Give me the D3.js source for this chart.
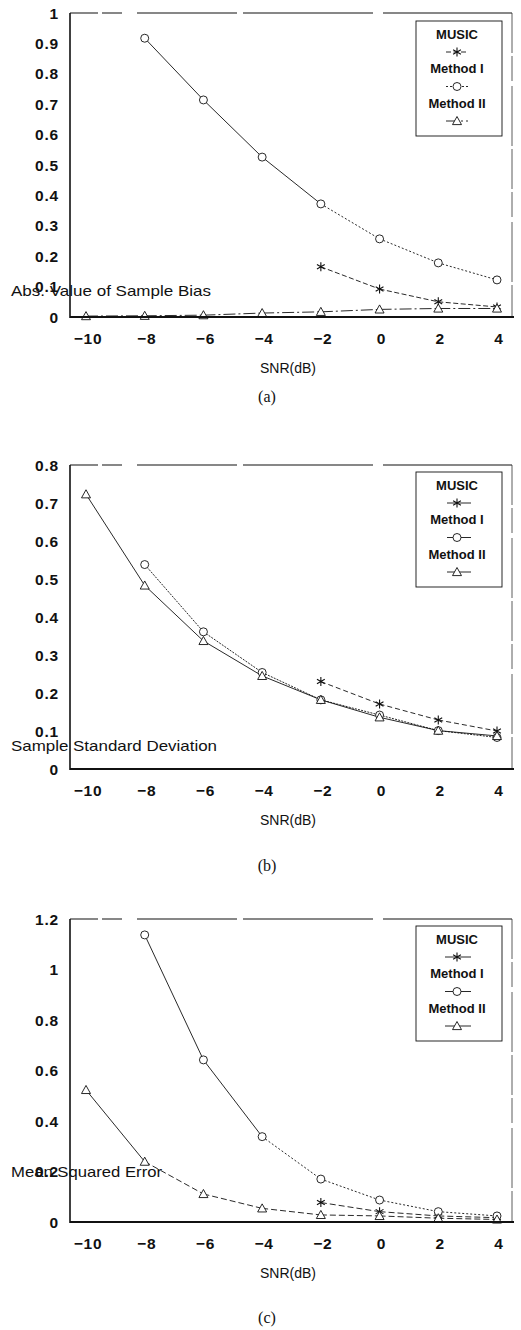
<!DOCTYPE html>
<html>
<head>
<meta charset="utf-8">
<script src="https://cdn.jsdelivr.net/npm/d3@7"></script>
<style>
  body { margin: 0; background: #fff; }
  svg { display: block; }
</style>
</head>
<body>
<div id="chart"></div>
<script>
// SNR values shared by all three panels
const snr = [-10, -8, -6, -4, -2, 0, 2, 4]
const xTicks = [-10, -8, -6, -4, -2, 0, 2, 4]
const seriesNames = ['MUSIC', 'Method I', 'Method II']

// (a) absolute value of sample bias
const biasMusic = [null, null, null, null, 0.165, 0.092, 0.05, 0.033]
const biasMethod1 = [null, 0.917, 0.714, 0.526, 0.372, 0.257, 0.178, 0.122]
const biasMethod2 = [0.003, 0.004, 0.006, 0.013, 0.017, 0.025, 0.028, 0.028]
const biasTicks = [0, 0.1, 0.2, 0.3, 0.4, 0.5, 0.6, 0.7, 0.8, 0.9, 1]

// (b) sample standard deviation
const stdMusic = [null, null, null, null, 0.23, 0.171, 0.129, 0.1]
const stdMethod1 = [null, 0.538, 0.361, 0.254, 0.182, 0.142, 0.101, 0.083]
const stdMethod2 = [0.723, 0.483, 0.337, 0.245, 0.182, 0.136, 0.101, 0.087]
const stdTicks = [0, 0.1, 0.2, 0.3, 0.4, 0.5, 0.6, 0.7, 0.8]

// (c) mean squared error
const mseMusic = [null, null, null, null, 0.077, 0.041, 0.024, 0.017]
const mseMethod1 = [null, 1.137, 0.642, 0.338, 0.17, 0.087, 0.041, 0.024]
const mseMethod2 = [0.523, 0.239, 0.111, 0.054, 0.028, 0.024, 0.015, 0.01]
const mseTicks = [0, 0.2, 0.4, 0.6, 0.8, 1, 1.2]

const W = 521, H = 1330
const svg = d3.select('#chart').append('svg').attr('width', W).attr('height', H)

const x = d3.scaleLinear().domain([-10, 4]).range([86, 497])
const axisLeft = 70, axisRight = 512

const sans = '"Liberation Sans", Arial, Helvetica, sans-serif'

function marker(g, type, cx, cy) {
    if (type === 'circle') {
        g.append('circle').attr('cx', cx).attr('cy', cy).attr('r', 4)
            .attr('fill', '#fff').attr('stroke', '#111').attr('stroke-width', 0.9)
    } else if (type === 'triangle') {
        const s = 4.5
        g.append('path')
            .attr('d', `M${cx},${cy - s}L${cx + s},${cy + s * 0.8}L${cx - s},${cy + s * 0.8}Z`)
            .attr('fill', '#fff').attr('stroke', '#111').attr('stroke-width', 0.9)
    } else {
        const s = 4.5, a = s * Math.cos(Math.PI / 6), b = s * Math.sin(Math.PI / 6)
        g.append('path')
            .attr('d', `M${cx},${cy - s}V${cy + s}M${cx - a},${cy - b}L${cx + a},${cy + b}M${cx - a},${cy + b}L${cx + a},${cy - b}`)
            .attr('stroke', '#111').attr('stroke-width', 1.1).attr('fill', 'none')
    }
}

function drawPanel(p) {
    const y = d3.scaleLinear().domain([0, p.max]).range([p.y0, p.yTop])
    const g = svg.append('g')

    // frame: top and right borders are slightly broken like the scan
    g.append('line').attr('x1', axisLeft).attr('x2', axisRight)
        .attr('y1', p.yTop).attr('y2', p.yTop)
        .attr('stroke', '#111').attr('stroke-width', 1.1)
        .attr('stroke-dasharray', '28,4,20,15,100,6,130,10,160,4')
    g.append('line').attr('x1', axisRight).attr('x2', axisRight)
        .attr('y1', p.yTop).attr('y2', p.y0)
        .attr('stroke', '#333').attr('stroke-width', 0.8)
        .attr('stroke-dasharray', '40,3,25,5,60,3')

    // series lines
    const line = d3.line().defined(d => d[1] != null).x(d => x(d[0])).y(d => y(d[1]))
    p.series.forEach(s => {
        const pts = snr.map((v, i) => [v, s.values[i]]).filter(d => d[1] != null)
        for (let i = 0; i < pts.length - 1; i++) {
            const solid = i < (s.solidSegs || 0)
            g.append('path').datum([pts[i], pts[i + 1]]).attr('d', line)
                .attr('fill', 'none').attr('stroke', '#111').attr('stroke-width', 0.9)
                .attr('stroke-dasharray', solid ? null : s.dash)
        }
    })
    p.series.forEach(s => {
        snr.forEach((v, i) => {
            if (s.values[i] != null) marker(g, s.marker, x(v), y(s.values[i]))
        })
    })

    // left axis and thick bottom axis
    g.append('line').attr('x1', axisLeft).attr('x2', axisLeft)
        .attr('y1', p.yTop).attr('y2', p.y0 + 1)
        .attr('stroke', '#111').attr('stroke-width', 1.6)
    g.append('line').attr('x1', axisLeft).attr('x2', axisRight + 2)
        .attr('y1', p.y0).attr('y2', p.y0)
        .attr('stroke', '#111').attr('stroke-width', 2.2)

    // y tick labels
    g.selectAll('.yt').data(p.ticks).enter().append('text')
        .attr('x', 59).attr('y', d => y(d)).attr('dy', '0.36em')
        .attr('text-anchor', 'end').attr('font-family', sans)
        .attr('font-weight', 'bold').attr('font-size', 15.5).attr('letter-spacing', 0.8)
        .attr('fill', '#111').text(d => String(d))

    // x tick labels
    g.selectAll('.xt').data(xTicks).enter().append('text')
        .attr('x', d => x(d) + 2).attr('y', p.y0 + 21).attr('dy', '0.36em')
        .attr('text-anchor', 'middle').attr('font-family', sans)
        .attr('font-weight', 'bold').attr('font-size', 15.5).attr('letter-spacing', 0.8)
        .attr('fill', '#111').text(d => (d < 0 ? '\u2212' + Math.abs(d) : String(d)))

    g.append('text').attr('x', 288).attr('y', p.y0 + 51).attr('dy', '0.36em')
        .attr('text-anchor', 'middle').attr('font-family', sans).attr('font-size', 14)
        .attr('fill', '#111').text('SNR(dB)')

    // y axis title sits over the lower ticks, as in the original
    g.append('text').attr('x', 11).attr('y', p.labelY).attr('dy', '0.36em')
        .attr('font-family', sans).attr('font-size', 15)
        .attr('textLength', p.labelW).attr('lengthAdjust', 'spacingAndGlyphs')
        .attr('fill', '#111').text(p.label)

    g.append('text').attr('x', 267).attr('y', p.capY).attr('dy', '0.36em')
        .attr('text-anchor', 'middle').attr('font-family', '"Liberation Serif", "Times New Roman", serif')
        .attr('font-size', 16).attr('fill', '#111').text(p.caption)

    // legend
    const lg = g.append('g')
    lg.append('rect').attr('x', 416).attr('y', p.legTop).attr('width', 86).attr('height', 115)
        .attr('fill', '#fff').attr('stroke', '#111').attr('stroke-width', 0.9)
    seriesNames.forEach((name, i) => {
        const ty = p.legTop + 13 + i * 34.5
        lg.append('text').attr('x', 457).attr('y', ty).attr('dy', '0.36em')
            .attr('text-anchor', 'middle').attr('font-family', sans)
            .attr('font-weight', 'bold').attr('font-size', 13).attr('fill', '#111').text(name)
        const my = ty + 18
        const s = p.series[i]
        lg.append('line').attr('x1', p.legLine[0]).attr('x2', p.legLine[1])
            .attr('y1', my).attr('y2', my).attr('stroke', '#111').attr('stroke-width', 0.9)
            .attr('stroke-dasharray', p.legDash ? s.dash : null)
        marker(lg, s.marker, 457, my)
    })
}

drawPanel({
    yTop: 13, y0: 317, max: 1, ticks: biasTicks,
    label: 'Abs. Value of Sample Bias', labelY: 291, labelW: 200,
    caption: '(a)', capY: 396, legTop: 21, legLine: [446, 468], legDash: true,
    series: [
        { values: biasMusic, marker: 'star', dash: '5,2.5' },
        { values: biasMethod1, marker: 'circle', dash: '2,2', solidSegs: 3 },
        { values: biasMethod2, marker: 'triangle', dash: '12,3,2,3' }
    ]
})

drawPanel({
    yTop: 465, y0: 769, max: 0.8, ticks: stdTicks,
    label: 'Sample Standard Deviation', labelY: 746, labelW: 206,
    caption: '(b)', capY: 865, legTop: 472, legLine: [447, 471], legDash: false,
    series: [
        { values: stdMusic, marker: 'star', dash: '5,3' },
        { values: stdMethod1, marker: 'circle', dash: '2,1.2' },
        { values: stdMethod2, marker: 'triangle', dash: null }
    ]
})

drawPanel({
    yTop: 919, y0: 1222, max: 1.2, ticks: mseTicks,
    label: 'Mean Squared Error', labelY: 1172, labelW: 151,
    caption: '(c)', capY: 1317, legTop: 926, legLine: [445, 471], legDash: false,
    series: [
        { values: mseMusic, marker: 'star', dash: '6,3' },
        { values: mseMethod1, marker: 'circle', dash: '2,2', solidSegs: 2 },
        { values: mseMethod2, marker: 'triangle', dash: '6,3', solidSegs: 1 }
    ]
})
</script>
</body>
</html>
